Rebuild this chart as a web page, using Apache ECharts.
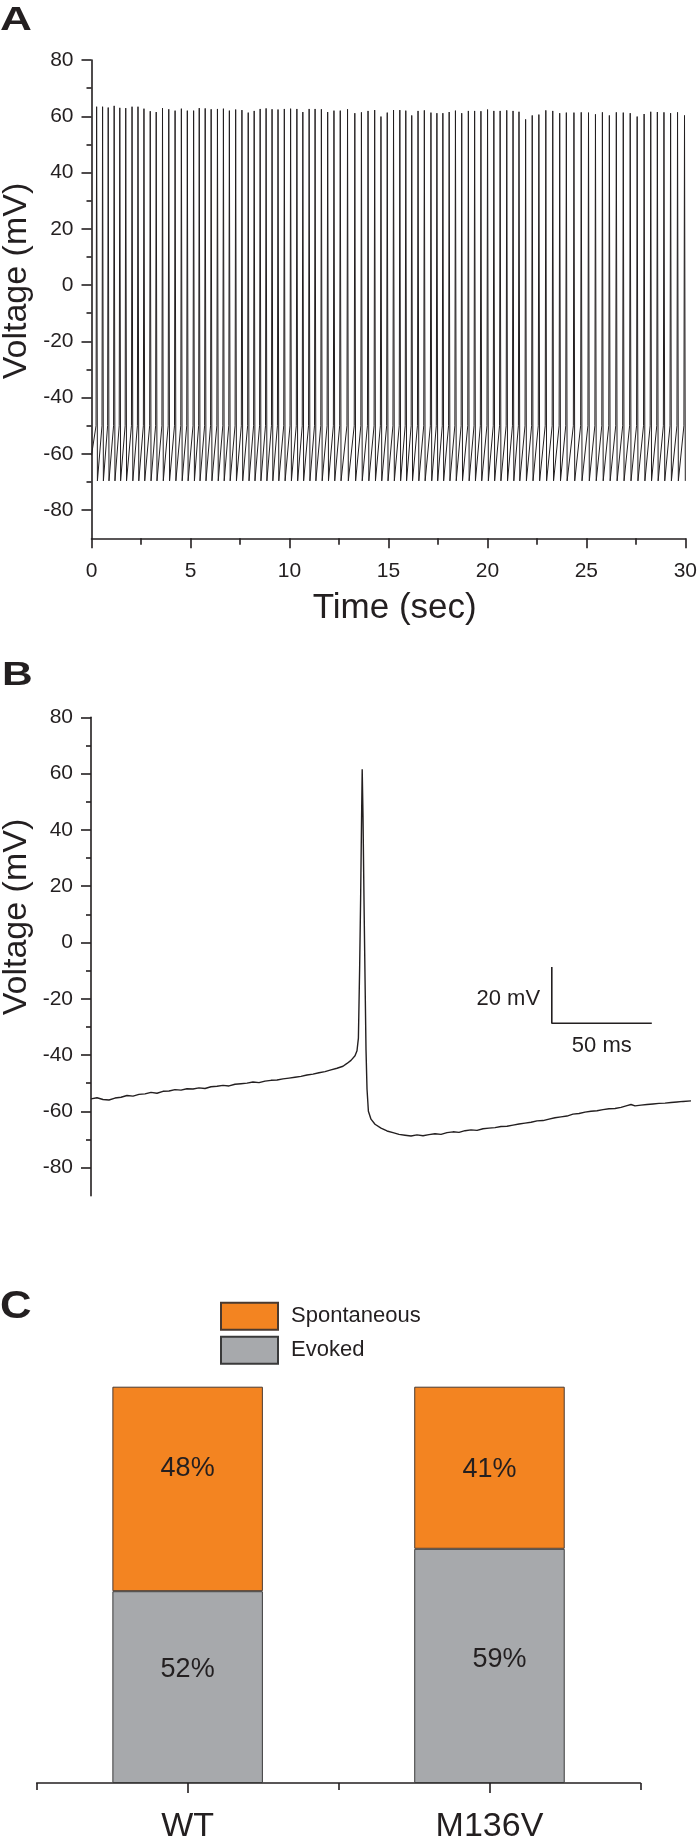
<!DOCTYPE html>
<html>
<head>
<meta charset="utf-8">
<script src="https://cdn.jsdelivr.net/npm/echarts/dist/echarts.min.js"></script>
<style>
html,body{margin:0;padding:0;background:#fff;}
#chart{width:700px;height:1844px;}
</style>
</head>
<body>
<div id="chart"></div>
<script>
// ---------- Panel A: 30 s spontaneous firing ----------
const spikeTimes = [
 0.259,0.560,0.844,1.145,1.430,1.730,2.048,2.349,2.650,2.968,3.269,3.587,3.904,4.223,4.540,4.841,5.159,5.443,5.744,6.045,
 6.363,6.664,6.965,7.283,7.600,7.918,8.219,8.520,8.821,9.122,9.423,9.741,10.059,10.376,10.677,10.995,11.296,11.614,11.932,12.249,
 12.567,12.935,13.303,13.637,13.971,14.306,14.624,14.941,15.259,15.577,15.878,16.179,16.497,16.815,17.149,17.450,17.751,18.069,18.387,18.704,
 19.039,19.356,19.674,20.009,20.327,20.644,20.979,21.296,21.597,21.932,22.266,22.601,22.952,23.303,23.654,23.989,24.373,24.741,25.109,25.460,
 25.811,26.162,26.514,26.865,27.216,27.567,27.918,28.253,28.587,28.921,29.256,29.607,29.959
];
const spikePeaks = [
 63.4,63.4,63.1,63.7,63.0,62.9,63.4,63.4,62.7,61.8,61.5,62.9,62.5,62.0,62.7,62.0,62.0,62.9,62.8,62.5,
 62.6,62.7,62.0,62.4,62.2,61.3,61.9,62.6,62.8,62.5,62.4,62.6,62.7,62.6,61.5,62.6,62.6,62.5,61.5,62.0,
 62.0,62.5,61.1,61.4,61.9,62.2,59.9,61.3,62.2,62.2,62.0,60.3,61.9,62.1,61.3,61.1,61.1,61.5,62.0,61.1,
 61.9,61.9,61.8,62.4,61.9,61.9,62.1,61.9,61.6,58.9,60.3,60.6,62.1,61.9,61.1,61.3,61.3,61.4,61.3,60.7,
 61.4,60.3,61.4,61.3,61.1,59.9,60.8,61.6,61.5,61.4,61.1,61.4,60.3
];
const traceStartA = [0, -60.5];
const troughMv = -69.6;
const thresholdMv = -50;

// ---------- Panel B: single action potential (ms, mV) ----------
const apTimeMs = [
 0,3,6,9,12,15,18,21,24,27,30,33,36,39,42,45,48,51,54,57,60,63,66,69,72,75,78,81,84,87,90,93,96,99,102,105,108,111,114,117,120,123,126,128,130,132,133,133.7,
 134.3,134.8,135.3,135.6,136.0,136.5,137.0,137.5,138.0,138.7,140,142,145,148,151,154,157,160,163,166,169,172,175,178,181,184,187,190,193,196,199,
 202,205,208,211,214,217,220,223,226,229,232,235,238,241,244,247,250,253,256,259,262,265,268,270,272,275,278,281,284,287,290,293,296,300
];
const apVoltage = [
 -55.6,-55.2,-55.8,-56.0,-55.3,-55.0,-54.4,-54.6,-54.0,-53.8,-53.3,-53.6,-52.9,-52.8,-52.3,-52.5,-52.0,-52.1,-51.7,-51.9,-51.3,-51.1,-50.8,-51.0,-50.4,-50.2,-50.0,-49.6,-49.8,-49.3,-49.0,-48.9,-48.5,-48.2,-47.9,-47.6,-47.1,-46.8,-46.3,-45.9,-45.3,-44.7,-44.0,-43.0,-41.9,-40.3,-38.5,-34.0,
 -10.0,15.0,45.0,61.5,45.0,15.0,-12.0,-38.0,-52.0,-60.0,-62.8,-64.6,-66.0,-67.0,-67.6,-68.2,-68.5,-68.8,-68.4,-68.7,-68.3,-68.0,-68.2,-67.6,-67.3,-67.5,-66.9,-66.6,-66.8,-66.2,-66.0,
 -65.8,-65.4,-65.3,-64.9,-64.5,-64.2,-63.9,-63.4,-63.3,-62.8,-62.3,-62.0,-61.7,-61.0,-60.8,-60.3,-60.0,-59.8,-59.4,-59.1,-59.0,-58.6,-58.0,-57.6,-58.1,-57.8,-57.6,-57.4,-57.2,-57.1,-56.9,-56.7,-56.5,-56.3
];
const scaleBarCorner = [230.4, -28.7]; // ms, mV
const scaleBarMv = 20;
const scaleBarMs = 50;

// ---------- Panel C: firing type proportions ----------
const categories = ['WT', 'M136V'];
const evokedHeight = [48.4, 59.1];
const spontaneousHeight = [51.6, 40.9];
const evokedLabels = ['52%', '59%'];
const spontaneousLabels = ['48%', '41%'];

// ---------- tick values ----------
const yMajorTicks = [-80,-60,-40,-20,0,20,40,60,80];
const yMinorTicks = [-70,-50,-30,-10,10,30,50,70];

// ---------- build series data ----------
const traceA = [traceStartA];
for (let i = 0; i < spikeTimes.length; i++) {
  if (i === 0) traceA.push([spikeTimes[0] - 0.03, thresholdMv]);
  traceA.push([spikeTimes[i], spikePeaks[i]]);
  traceA.push([spikeTimes[i] + 0.04, troughMv]);
  if (i < spikeTimes.length - 1) traceA.push([spikeTimes[i + 1] - 0.03, thresholdMv]);
}
const traceB = apTimeMs.map((t, i) => [t, apVoltage[i]]);
const scaleBar = [
  [scaleBarCorner[0], scaleBarCorner[1] + scaleBarMv],
  scaleBarCorner,
  [scaleBarCorner[0] + scaleBarMs, scaleBarCorner[1]]
];

const FONT = '"Liberation Sans", Arial, Helvetica, sans-serif';
const INK = '#231f20';
const axisLine = { show: true, onZero: false, lineStyle: { color: INK, width: 1.6 } };
const tickStyle = { color: INK, width: 1.6 };

const evokedOffsets = [[0, -18], [10, -6]];
const spontOffsets = [[0, -20], [0, 2]];

const chart = echarts.init(document.getElementById('chart'), null, { renderer: 'canvas' });

const option = {
  animation: false,
  backgroundColor: '#fff',
  textStyle: { fontFamily: FONT },
  grid: [
    { left: 91.5, top: 60, width: 598, height: 478.3 },
    { left: 91, top: 717.3, width: 600, height: 478.4 },
    { left: 36.7, top: 1386.7, width: 603.7, height: 401.6 }
  ],
  xAxis: [
    { type: 'value', gridIndex: 0, min: 0, max: 30, interval: 5, position: 'bottom',
      axisLine: axisLine, splitLine: { show: false },
      axisTick: { show: true, length: 10, lineStyle: tickStyle },
      minorTick: { show: true, splitNumber: 2, length: 6.5, lineStyle: tickStyle },
      axisLabel: { fontSize: 21, color: INK, margin: 22, fontFamily: FONT } },
    { type: 'value', gridIndex: 1, min: 0, max: 300, show: false },
    { type: 'category', gridIndex: 2, data: categories, position: 'bottom',
      axisLine: axisLine,
      axisTick: { show: true, alignWithLabel: false, length: 7, lineStyle: tickStyle },
      axisLabel: { show: false } },
    { type: 'category', gridIndex: 2, data: categories, position: 'bottom',
      axisLine: { show: false, onZero: false },
      axisTick: { show: true, alignWithLabel: true, length: 10, lineStyle: tickStyle },
      axisLabel: { show: true, fontSize: 34, color: INK, margin: 27, fontFamily: FONT } }
  ],
  yAxis: [
    { type: 'value', gridIndex: 0, min: -90, max: 80, position: 'left',
      axisLine: axisLine, splitLine: { show: false },
      axisTick: { show: true, length: 10, customValues: yMajorTicks, lineStyle: tickStyle },
      axisLabel: { fontSize: 21, color: INK, margin: 18, customValues: yMajorTicks, fontFamily: FONT } },
    { type: 'value', gridIndex: 0, min: -90, max: 80, position: 'left', offset: 0,
      axisLine: { show: false, onZero: false }, splitLine: { show: false },
      axisTick: { show: true, length: 5, customValues: yMinorTicks, lineStyle: tickStyle },
      axisLabel: { show: false } },
    { type: 'value', gridIndex: 1, min: -90, max: 80, position: 'left',
      axisLine: axisLine, splitLine: { show: false },
      axisTick: { show: true, length: 10, customValues: yMajorTicks, lineStyle: tickStyle },
      axisLabel: { fontSize: 21, color: INK, margin: 18, customValues: yMajorTicks, fontFamily: FONT } },
    { type: 'value', gridIndex: 1, min: -90, max: 80, position: 'left', offset: 0,
      axisLine: { show: false, onZero: false }, splitLine: { show: false },
      axisTick: { show: true, length: 5, customValues: yMinorTicks, lineStyle: tickStyle },
      axisLabel: { show: false } },
    { type: 'value', gridIndex: 2, min: 0, max: 100, show: false }
  ],
  legend: {
    data: ['Spontaneous', 'Evoked'],
    orient: 'vertical', left: 220, top: 1301.7, padding: 0,
    itemWidth: 57, itemHeight: 27, itemGap: 5, icon: 'rect',
    textStyle: { fontSize: 22, color: INK, fontFamily: FONT, padding: [0, 0, 0, 8] }
  },
  series: [
    { name: 'traceA', type: 'line', xAxisIndex: 0, yAxisIndex: 0, data: traceA,
      showSymbol: false, symbol: 'none', lineStyle: { color: INK, width: 1 }, silent: true },
    { name: 'traceB', type: 'line', xAxisIndex: 1, yAxisIndex: 2, data: traceB,
      showSymbol: false, symbol: 'none', lineStyle: { color: INK, width: 1.4 }, silent: true },
    { name: 'scaleBar', type: 'line', xAxisIndex: 1, yAxisIndex: 2, data: scaleBar,
      showSymbol: false, symbol: 'none', lineStyle: { color: INK, width: 1.6 }, silent: true },
    { name: 'Evoked', type: 'bar', xAxisIndex: 2, yAxisIndex: 4, stack: 'p', barWidth: 150.5,
      data: evokedHeight.map((v, i) => ({ value: v, label: { offset: evokedOffsets[i] } })),
      itemStyle: { color: '#a7a9ac', borderColor: '#3a3a3a', borderWidth: 1 },
      label: { show: true, position: 'inside', fontSize: 27, color: INK, fontFamily: FONT,
        formatter: p => evokedLabels[p.dataIndex] } },
    { name: 'Spontaneous', type: 'bar', xAxisIndex: 2, yAxisIndex: 4, stack: 'p', barWidth: 150.5,
      data: spontaneousHeight.map((v, i) => ({ value: v, label: { offset: spontOffsets[i] } })),
      itemStyle: { color: '#f38421', borderColor: '#4a3a30', borderWidth: 1 },
      label: { show: true, position: 'inside', fontSize: 27, color: INK, fontFamily: FONT,
        formatter: p => spontaneousLabels[p.dataIndex] } }
  ]
};
chart.setOption(option);

// text annotations positioned from data coordinates
const sbCorner = chart.convertToPixel({ xAxisIndex: 1, yAxisIndex: 2 }, scaleBarCorner);
const sbTop = chart.convertToPixel({ xAxisIndex: 1, yAxisIndex: 2 }, [scaleBarCorner[0], scaleBarCorner[1] + scaleBarMv]);
const sbRight = chart.convertToPixel({ xAxisIndex: 1, yAxisIndex: 2 }, [scaleBarCorner[0] + scaleBarMs, scaleBarCorner[1]]);

chart.setOption({
  graphic: [
    { type: 'text', x: 0, y: 21, scaleX: 1.3, style: { text: 'A', font: 'bold 34px ' + FONT, fill: INK, textVerticalAlign: 'middle' } },
    { type: 'text', x: 2, y: 676, scaleX: 1.25, style: { text: 'B', font: 'bold 34px ' + FONT, fill: INK, textVerticalAlign: 'middle' } },
    { type: 'text', x: 0, y: 1308, scaleX: 1.15, style: { text: 'C', font: 'bold 38px ' + FONT, fill: INK, textVerticalAlign: 'middle' } },
    { type: 'text', x: 17, y: 281, rotation: Math.PI / 2, style: { text: 'Voltage (mV)', font: '34px ' + FONT, fill: INK, textAlign: 'center', textVerticalAlign: 'middle' } },
    { type: 'text', x: 17, y: 917, rotation: Math.PI / 2, style: { text: 'Voltage (mV)', font: '34px ' + FONT, fill: INK, textAlign: 'center', textVerticalAlign: 'middle' } },
    { type: 'text', x: 394.7, y: 608, style: { text: 'Time (sec)', font: '35px ' + FONT, fill: INK, textAlign: 'center', textVerticalAlign: 'middle' } },
    { type: 'text', x: sbCorner[0] - 11.7, y: (sbCorner[1] + sbTop[1]) / 2 + 3.5, style: { text: '20 mV', font: '22px ' + FONT, fill: INK, textAlign: 'right', textVerticalAlign: 'middle' } },
    { type: 'text', x: (sbCorner[0] + sbRight[0]) / 2, y: sbCorner[1] + 23, style: { text: '50 ms', font: '22px ' + FONT, fill: INK, textAlign: 'center', textVerticalAlign: 'middle' } }
  ]
});
</script>
</body>
</html>
